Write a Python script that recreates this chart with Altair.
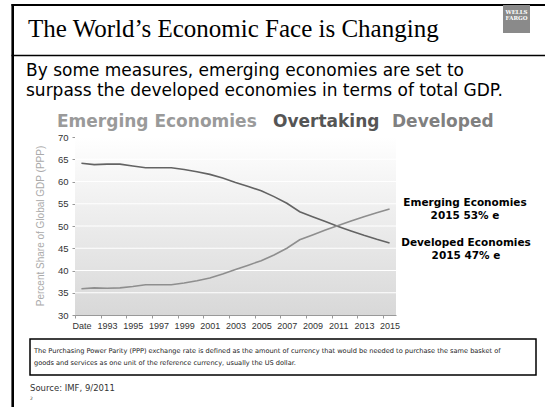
import altair as alt
import pandas as pd

# ---------------- data ----------------
years = [str(y) for y in range(1991, 2016)]
developed = [64.1, 63.8, 63.9, 63.9, 63.5, 63.1, 63.1, 63.1, 62.7, 62.2,
             61.6, 60.8, 59.8, 58.9, 57.9, 56.6, 55.1, 53.2, 52.1, 51.0,
             49.9, 48.9, 47.9, 47.0, 46.2]
emerging = [35.9, 36.1, 36.0, 36.1, 36.4, 36.8, 36.8, 36.8, 37.2, 37.7,
            38.3, 39.2, 40.2, 41.2, 42.2, 43.5, 45.0, 46.9, 48.0, 49.1,
            50.1, 51.1, 52.1, 53.0, 53.8]
series_names = ["Developed", "Emerging"]
label_years = [str(y) for y in range(1991, 2016, 2)]
y_ticks = [30, 35, 40, 45, 50, 55, 60, 65, 70]
grid_values = [35, 40, 45, 50, 55, 60, 65]

# ---------------- layout ----------------
OX, OY = 75, 137      # plot origin in page pixels
W, H = 321, 178       # plot size
STEP = W / len(years)


def px(x):
    return x - OX


def py(y):
    return y - OY


df = pd.DataFrame({
    "year": years * 2,
    "share": developed + emerging,
    "series": [series_names[0]] * len(years) + [series_names[1]] * len(years),
})
one = pd.DataFrame({"a": [0]})
grid_df = pd.DataFrame({"v": grid_values})

xscale = alt.Scale(type="point", padding=0.5, domain=years)
yscale = alt.Scale(domain=[30, 70], nice=False, zero=False)

yaxis = alt.Axis(values=y_ticks, labelFont="Liberation Sans",
                 labelFontSize=9.5, labelColor="#333333",
                 labelPadding=4, tickSize=3, tickColor="#999999",
                 domainColor="#999999", grid=False, title=None)


def text(s, x, y, size, color="#000000", font="DejaVu Sans", weight="normal",
         align="left", baseline="middle", angle=0, line_height=None):
    kw = dict(text=s, fontSize=size, color=color, font=font, fontWeight=weight,
              align=align, baseline=baseline, angle=angle)
    if line_height is not None:
        kw["lineHeight"] = line_height
    return alt.Chart(one).mark_text(**kw).encode(
        x=alt.value(px(x)), y=alt.value(py(y)))


def hrule(x1, x2, y, width, color="#000000"):
    return alt.Chart(one).mark_rule(color=color, strokeWidth=width).encode(
        x=alt.value(px(x1)), x2=alt.value(px(x2)), y=alt.value(py(y)))


def vrule(x, y1, y2, width, color="#000000"):
    return alt.Chart(one).mark_rule(color=color, strokeWidth=width).encode(
        x=alt.value(px(x)), y=alt.value(py(y1)), y2=alt.value(py(y2)))


# slide frame
frame = [
    hrule(11.5, 545, 5, 2),
    vrule(12.7, 4, 407, 2.6),
    hrule(11.5, 545, 55.5, 1.5),
]

# Wells Fargo logo
logo = [
    alt.Chart(one).mark_rect(color="#8a8a8a").encode(
        x=alt.value(px(503)), x2=alt.value(px(530)),
        y=alt.value(py(5)), y2=alt.value(py(33))),
    text(["WELLS", "FARGO"], 516.5, 9.5, 5.5, color="#ffffff",
         font="DejaVu Serif", weight="bold", align="center", baseline="top",
         line_height=6.5),
]

titles = [
    text("The World\u2019s Economic Face is Changing", 28, 37, 25,
         font="Liberation Serif", baseline="alphabetic"),
    text(["By some measures, emerging economies are set to",
          "surpass the developed economies in terms of total GDP."],
         26, 63, 17, baseline="top", line_height=19.9),
    text("Emerging Economies", 57, 127, 17, color="#9a9a9a", weight="bold",
         baseline="alphabetic"),
    text("Overtaking", 273, 127, 17, color="#555555", weight="bold",
         baseline="alphabetic"),
    text("Developed", 392, 127, 17, color="#808080", weight="bold",
         baseline="alphabetic"),
]

# plot background gradient
bg = alt.Chart(one).mark_rect(
    color=alt.Gradient(
        gradient="linear",
        stops=[alt.GradientStop(color="#ffffff", offset=0),
               alt.GradientStop(color="#f3f3f3", offset=0.3),
               alt.GradientStop(color="#d8d8d8", offset=1)],
        x1=0, x2=0, y1=0, y2=1)
).encode(x=alt.value(0), x2=alt.value(W), y=alt.value(0), y2=alt.value(H))

grid = alt.Chart(grid_df).mark_rule(color="#ffffff", strokeWidth=1.2).encode(
    y=alt.Y("v:Q", scale=yscale, axis=yaxis),
    x=alt.value(0), x2=alt.value(W))

lines = alt.Chart(df).mark_line(strokeWidth=1.6).encode(
    x=alt.X("year:O", scale=xscale, sort=years, title=None,
            axis=alt.Axis(values=label_years,
                          labelExpr="datum.value == '1991' ? 'Date' : datum.value",
                          labelAngle=0, labelFont="Liberation Sans",
                          labelFontSize=9, labelColor="#333333",
                          labelPadding=3, tickSize=3, tickColor="#999999",
                          domainColor="#999999", grid=False,
                          tickOffset=-STEP / 2, labelOffset=STEP / 2)),
    y=alt.Y("share:Q", scale=yscale, axis=yaxis),
    color=alt.Color("series:N",
                    scale=alt.Scale(domain=series_names,
                                    range=["#636363", "#8e8e8e"]),
                    legend=None),
)

ytitle = text("Percent Share of Global GDP (PPP)", 41, 226, 10,
              color="#aaaaaa", font="Liberation Sans", align="center",
              angle=270)

annots = [
    text(["Emerging Economies", "2015 53% e"], 465, 198, 10.5, weight="bold",
         align="center", baseline="top", line_height=13),
    text(["Developed Economies", "2015 47% e"], 466, 238, 10.5, weight="bold",
         align="center", baseline="top", line_height=12.5),
]

footbox = alt.Chart(one).mark_rect(
    fill="#ffffff", stroke="#000000", strokeWidth=1.5
).encode(x=alt.value(px(30)), x2=alt.value(px(536)),
         y=alt.value(py(339)), y2=alt.value(py(375)))

foot = [
    footbox,
    text(["The Purchasing Power Parity (PPP) exchange rate is defined as the amount "
          "of currency that would be needed to purchase the same basket of",
          "goods and services as one unit of the reference currency, usually the US dollar."],
         34, 348, 6.6, color="#222222", baseline="top", line_height=12),
    text("Source: IMF, 9/2011", 30, 388, 8.5, color="#333333"),
    text("2", 30, 399, 4.5, color="#333333"),
]

chart = alt.layer(
    *frame, *logo, *titles, bg, grid, lines, ytitle, *annots, *foot
).properties(
    width=W, height=H,
    padding={"left": OX, "top": OY, "right": 545 - OX - W, "bottom": 407 - OY - H},
    autosize=alt.AutoSizeParams(type="none"),
    background="#ffffff",
).configure_view(stroke=None)

chart.save("out.html", embed_options={"renderer": "svg", "actions": False})
